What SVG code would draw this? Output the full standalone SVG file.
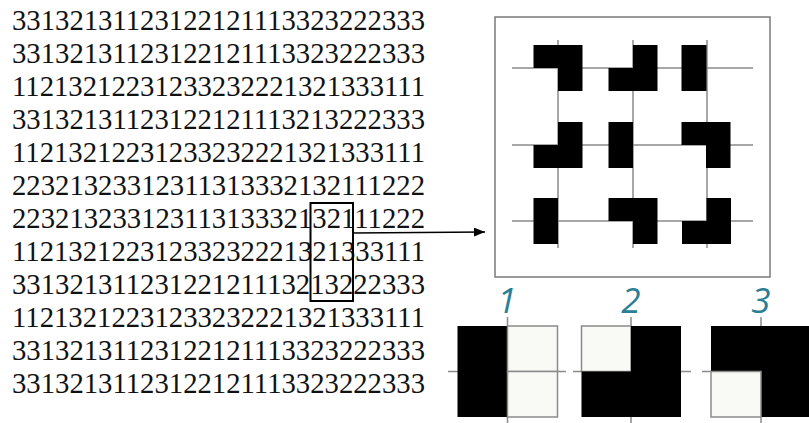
<svg xmlns="http://www.w3.org/2000/svg" width="809" height="423" viewBox="0 0 809 423">
<defs>
<marker id="ah" markerWidth="11" markerHeight="9" refX="11" refY="4.5" orient="auto" markerUnits="userSpaceOnUse"><path d="M0,0 L11,4.5 L0,9 z" fill="#000"/></marker>
<style>
.digits text{font-family:"Liberation Serif","Times New Roman",serif;font-size:28.5px;fill:#111}
.gl{stroke:#8a8a8a;stroke-width:1.5;fill:none}
.blk{fill:#000}
.wc{fill:#f9f9f6;stroke:#8a8a8a;stroke-width:1.5}
.lbl{font-family:"Open Sans","Noto Sans",sans-serif;font-style:italic;font-size:35px;fill:#2b7f95;text-anchor:middle}
</style>
</defs>
<rect width="809" height="423" fill="#fff"/>
<g id="digits" class="digits">
<text x="12" y="30" textLength="413" lengthAdjust="spacingAndGlyphs">33132131123122121113323222333</text>
<text x="12" y="63" textLength="413" lengthAdjust="spacingAndGlyphs">33132131123122121113323222333</text>
<text x="12" y="96" textLength="413" lengthAdjust="spacingAndGlyphs">11213212231233232221321333111</text>
<text x="12" y="129" textLength="413" lengthAdjust="spacingAndGlyphs">33132131123122121113213222333</text>
<text x="12" y="162" textLength="413" lengthAdjust="spacingAndGlyphs">11213212231233232221321333111</text>
<text x="12" y="195" textLength="413" lengthAdjust="spacingAndGlyphs">22321323312311313332132111222</text>
<text x="12" y="228" textLength="413" lengthAdjust="spacingAndGlyphs">22321323312311313332132111222</text>
<text x="12" y="261" textLength="413" lengthAdjust="spacingAndGlyphs">11213212231233232221321333111</text>
<text x="12" y="294" textLength="413" lengthAdjust="spacingAndGlyphs">33132131123122121113213222333</text>
<text x="12" y="327" textLength="413" lengthAdjust="spacingAndGlyphs">11213212231233232221321333111</text>
<text x="12" y="360" textLength="413" lengthAdjust="spacingAndGlyphs">33132131123122121113323222333</text>
<text x="12" y="393" textLength="413" lengthAdjust="spacingAndGlyphs">33132131123122121113323222333</text>
</g>
<g id="highlight">
<rect x="310.5" y="203" width="42.5" height="98" fill="none" stroke="#000" stroke-width="2"/>
</g>
<g id="connectors">
<line x1="353" y1="233" x2="485" y2="232" stroke="#000" stroke-width="1.5" marker-end="url(#ah)"/>
</g>
<g id="grid-panel">
<rect x="495" y="17" width="275" height="260" fill="#fff" stroke="#7a7a7a" stroke-width="1.5"/>
<g class="gl">
<line x1="512" y1="68" x2="753" y2="68"/>
<line x1="512" y1="145" x2="753" y2="145"/>
<line x1="512" y1="221" x2="753" y2="221"/>
<line x1="558" y1="40" x2="558" y2="248"/>
<line x1="633" y1="40" x2="633" y2="248"/>
<line x1="707" y1="40" x2="707" y2="248"/>
</g>
<g class="blk">
<path d="M533.5,45 h49 v46 h-24.5 v-23 h-24.5 z"/>
<path d="M633,45 h24.5 v46 h-49 v-23 h24.5 z"/>
<rect x="681.5" y="45" width="25" height="46"/>
<path d="M558,122 h24.5 v46 h-49 v-23 h24.5 z"/>
<rect x="608.5" y="122" width="24.5" height="46"/>
<path d="M681.5,122 h49 v46 h-24.5 v-23 h-24.5 z"/>
<rect x="533.5" y="198" width="24.5" height="46"/>
<path d="M608.5,198 h49 v46 h-24.5 v-23 h-24.5 z"/>
<path d="M706.5,198 h24.5 v46 h-49 v-23 h24.5 z"/>
</g>
</g>
<g id="tile-1">
<line class="gl" x1="448" y1="371.5" x2="566" y2="371.5"/>
<line class="gl" x1="507.5" y1="317" x2="507.5" y2="423"/>
<rect class="blk" x="457.5" y="326" width="50" height="91"/>
<rect class="wc" x="507.5" y="326" width="50" height="45.5"/>
<rect class="wc" x="507.5" y="371.5" width="50" height="45.5"/>
<text class="lbl" x="507" y="313">1</text>
</g>
<g id="tile-2">
<line class="gl" x1="573" y1="371.5" x2="691" y2="371.5"/>
<line class="gl" x1="631" y1="317" x2="631" y2="423"/>
<rect class="wc" x="581.5" y="326" width="49.5" height="45.5"/>
<path class="blk" d="M631,326 h50 v91 h-99.5 v-45.5 h49.5 z"/>
<text class="lbl" x="631" y="313">2</text>
</g>
<g id="tile-3">
<line class="gl" x1="702" y1="371.5" x2="809" y2="371.5"/>
<line class="gl" x1="761" y1="317" x2="761" y2="423"/>
<path class="blk" d="M711,326 h100 v91 h-50 v-45.5 h-50 z"/>
<rect class="wc" x="711" y="371.5" width="50" height="45.5"/>
<text class="lbl" x="761" y="313">3</text>
</g>
</svg>
